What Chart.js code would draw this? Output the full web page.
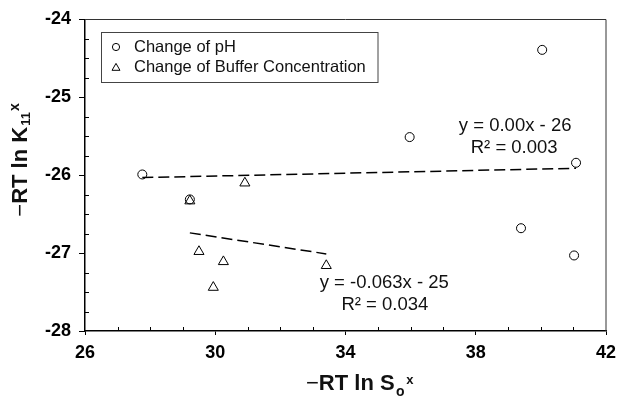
<!DOCTYPE html>
<html><head><meta charset="utf-8">
<script src="https://cdn.jsdelivr.net/npm/chart.js@4"></script>
<style>html,body{margin:0;padding:0;background:#fff;}canvas{display:block}</style>
</head><body>
<canvas id="c" width="620" height="396"></canvas>
<script>
// ---- data ----
const seriesNames = ['Change of pH', 'Change of Buffer Concentration'];
const phX  = [27.76, 29.22, 35.97, 40.04, 41.08, 39.39, 41.02];
const phY  = [-25.99, -26.31, -25.51, -24.39, -25.84, -26.68, -27.03];
const bufX = [29.22, 30.91, 29.50, 30.25, 29.94, 33.41];
const bufY = [-26.33, -26.10, -26.98, -27.11, -27.44, -27.16];
const phTrendX  = [27.76, 41.08];
const phTrendY  = [-26.03, -25.91];
const bufTrendX = [29.22, 33.41];
const bufTrendY = [-26.74, -27.01];
const xTicks = [26, 30, 34, 38, 42];
const yTicks = [-28, -27, -26, -25, -24];
const eqTexts = ['y = 0.00x - 26', 'R\u00B2 = 0.003', 'y = -0.063x - 25', 'R\u00B2 = 0.034'];

// ---- layout / style (not data) ----
const FONT = '"Liberation Sans", Arial, Helvetica, sans-serif';
const eqAnchors = [[39.21, -25.37], [39.18, -25.65], [35.19, -27.38], [35.21, -27.66]];

function pts(xs, ys) { return xs.map((x, i) => ({ x: x, y: ys[i] })); }

function drawRich(ctx, parts, x, y) {
  let cx = x;
  ctx.textAlign = 'left';
  ctx.textBaseline = 'alphabetic';
  for (const p of parts) {
    ctx.font = p.font;
    ctx.fillText(p.t, cx, y + (p.dy || 0));
    cx += ctx.measureText(p.t).width + (p.gap || 0);
  }
}

const decor = {
  id: 'decor',
  afterDraw(chart) {
    const ctx = chart.ctx;
    const a = chart.chartArea;
    const xs = chart.scales.x, ys = chart.scales.y;
    ctx.save();
    // top & right frame
    ctx.strokeStyle = '#333';
    ctx.lineWidth = 1;
    ctx.beginPath();
    ctx.moveTo(a.left, a.top); ctx.lineTo(a.right, a.top); ctx.lineTo(a.right, a.bottom);
    ctx.stroke();
    // minor ticks (inside)
    ctx.strokeStyle = '#000';
    ctx.lineWidth = 1;
    ctx.beginPath();
    for (let i = 1; i < 16; i++) {
      if (i % 4 === 0) continue;
      const px = Math.round(xs.getPixelForValue(26 + i)) + 0.5;
      ctx.moveTo(px, a.bottom); ctx.lineTo(px, a.bottom - 4);
    }
    for (let j = 1; j < 16; j++) {
      if (j % 4 === 0) continue;
      const py = Math.round(ys.getPixelForValue(-28 + j * 0.25)) + 0.5;
      ctx.moveTo(a.left, py); ctx.lineTo(a.left + 4, py);
    }
    ctx.stroke();
    // regression equations
    ctx.fillStyle = '#111';
    ctx.font = '18.5px ' + FONT;
    ctx.textAlign = 'center';
    ctx.textBaseline = 'middle';
    eqTexts.forEach((t, i) => {
      ctx.fillText(t, xs.getPixelForValue(eqAnchors[i][0]), ys.getPixelForValue(eqAnchors[i][1]));
    });
    // legend
    ctx.strokeStyle = '#444';
    ctx.lineWidth = 1;
    ctx.strokeRect(101.5, 32.5, 276.5, 50);
    const ds = chart.data.datasets;
    const rowsY = [47, 67];
    const mk = [{ pointStyle: 'circle', radius: 3.6 }, { pointStyle: 'triangle', radius: 4.6 }];
    for (let k = 0; k < 2; k++) {
      ctx.strokeStyle = '#000';
      ctx.fillStyle = 'rgba(0,0,0,0)';
      ctx.lineWidth = 1;
      Chart.helpers.drawPoint(ctx, { pointStyle: mk[k].pointStyle, radius: mk[k].radius, borderWidth: 1, rotation: 0 }, 116, rowsY[k] + (k === 1 ? 1 : 0));
      ctx.fillStyle = '#111';
      ctx.font = '16.5px ' + FONT;
      ctx.textAlign = 'left';
      ctx.textBaseline = 'middle';
      ctx.fillText(ds[k].label, 134, rowsY[k]);
    }
    // axis titles
    ctx.fillStyle = '#111';
    const xParts = [
      { t: '\u2212', font: '22px ' + FONT },
      { t: 'RT ln S', font: 'bold 22px ' + FONT, gap: 1.5 },
      { t: 'o', font: 'bold 14px ' + FONT, dy: 6, gap: 1.5 },
      { t: 'x', font: 'bold 13px ' + FONT, dy: -6 }
    ];
    drawRich(ctx, xParts, 306, 390);
    ctx.translate(27.3, 216.7);
    ctx.rotate(-Math.PI / 2);
    const yParts = [
      { t: '\u2212', font: '22px ' + FONT },
      { t: 'RT ln K', font: 'bold 22px ' + FONT, gap: 1 },
      { t: '11', font: 'bold 13px ' + FONT, dy: 3, gap: 1 },
      { t: 'x', font: 'bold 14px ' + FONT, dy: -8 }
    ];
    drawRich(ctx, yParts, 0, 0);
    ctx.restore();
  }
};

const markerStyle = { borderColor: '#000', backgroundColor: 'rgba(0,0,0,0)', borderWidth: 1, showLine: false, pointHoverRadius: 0 };
const trendStyle = { showLine: true, borderDash: [11, 5], borderColor: '#000', borderWidth: 1.5, pointRadius: 0, fill: false };

new Chart(document.getElementById('c'), {
  type: 'scatter',
  data: {
    datasets: [
      Object.assign({ label: seriesNames[0], data: pts(phX, phY), pointStyle: 'circle', pointRadius: 4.5 }, markerStyle),
      Object.assign({ label: seriesNames[1], data: pts(bufX, bufY), pointStyle: 'triangle', pointRadius: 5.8 }, markerStyle),
      Object.assign({ label: 'trend pH', data: pts(phTrendX, phTrendY) }, trendStyle),
      Object.assign({ label: 'trend buffer', data: pts(bufTrendX, bufTrendY) }, trendStyle)
    ]
  },
  options: {
    responsive: false,
    animation: false,
    devicePixelRatio: 1,
    layout: { padding: { left: 0, right: 14, top: 19.5, bottom: 0 } },
    plugins: { legend: { display: false }, tooltip: { enabled: false } },
    scales: {
      x: {
        type: 'linear', min: xTicks[0], max: xTicks[xTicks.length - 1],
        afterBuildTicks(s) { s.ticks = xTicks.map(v => ({ value: v })); },
        ticks: { font: { family: FONT, size: 18, weight: 'bold' }, color: '#000', padding: 7, maxRotation: 0 },
        grid: { drawOnChartArea: false, drawTicks: true, tickLength: 4, color: '#000', lineWidth: 1 },
        border: { display: true, color: '#000', width: 1.5 },
        afterFit(s) { s.height = 65; s.paddingLeft = 0; s.paddingRight = 0; }
      },
      y: {
        type: 'linear', min: yTicks[0], max: yTicks[yTicks.length - 1],
        afterBuildTicks(s) { s.ticks = yTicks.map(v => ({ value: v })); },
        ticks: { font: { family: FONT, size: 18, weight: 'bold' }, color: '#000', padding: 8 },
        grid: { drawOnChartArea: false, drawTicks: true, tickLength: 6, color: '#000', lineWidth: 1 },
        border: { display: true, color: '#000', width: 1.5 },
        afterFit(s) { s.width = 85; s.paddingTop = 0; s.paddingBottom = 0; }
      }
    }
  },
  plugins: [decor]
});
</script>
</body></html>
